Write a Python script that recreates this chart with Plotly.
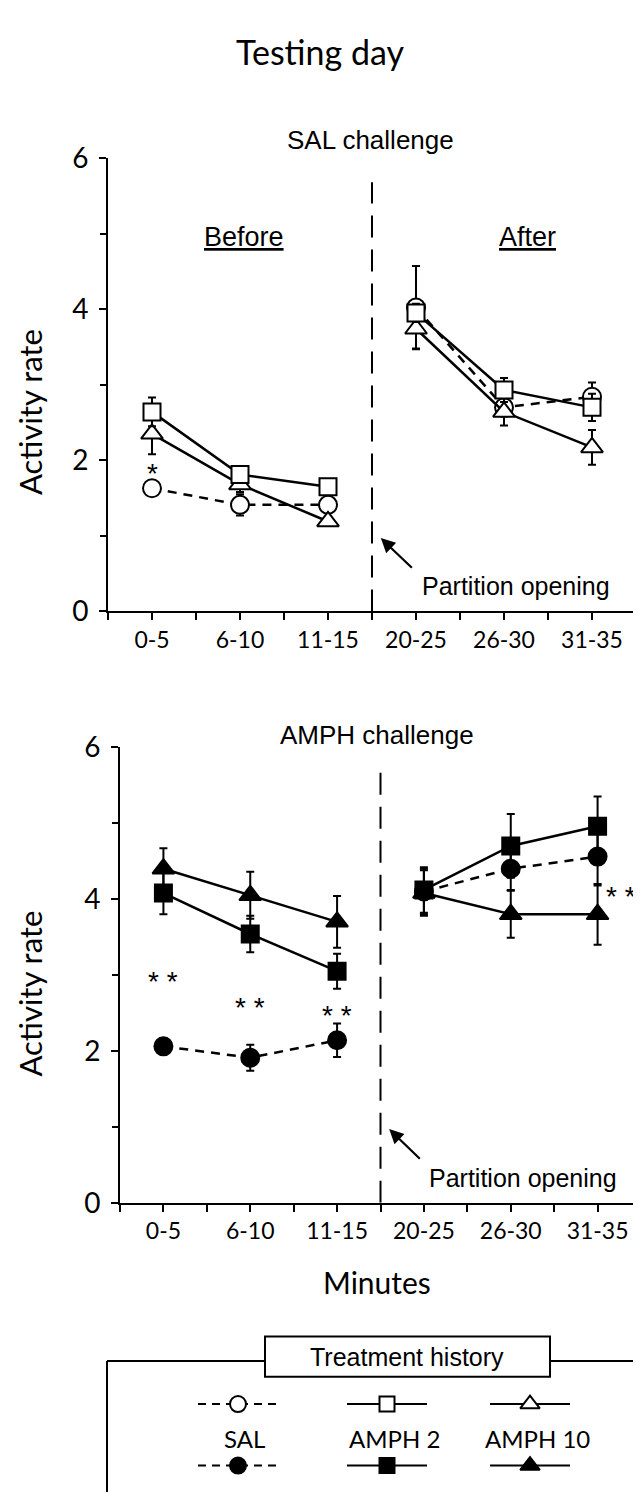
import plotly.graph_objects as go

# ---------------- data ----------------
categories = ["0-5", "6-10", "11-15", "20-25", "26-30", "31-35"]
groups = ["SAL", "AMPH 2", "AMPH 10"]
y_ticks = [0, 2, 4, 6]

# SAL challenge (open symbols)
sal_sal = [1.63, 1.41, 1.41, 4.02, 2.70, 2.84]
sal_sal_err = [0.05, 0.14, 0.06, 0.55, 0.12, 0.19]
sal_amph2 = [2.64, 1.81, 1.65, 3.95, 2.93, 2.70]
sal_amph2_err = [0.19, 0.08, 0.05, 0.12, 0.16, 0.18]
sal_amph10 = [2.35, 1.68, 1.19, 3.74, 2.64, 2.17]
sal_amph10_err = [0.27, 0.10, 0.06, 0.26, 0.18, 0.23]

# AMPH challenge (filled symbols)
amph_sal = [2.06, 1.91, 2.14, 4.10, 4.40, 4.56]
amph_sal_err = [0.10, 0.17, 0.22, 0.30, 0.28, 0.38]
amph_amph2 = [4.08, 3.54, 3.05, 4.12, 4.70, 4.96]
amph_amph2_err = [0.28, 0.24, 0.23, 0.30, 0.42, 0.39]
amph_amph10 = [4.40, 4.05, 3.70, 4.08, 3.80, 3.80]
amph_amph10_err = [0.27, 0.31, 0.34, 0.30, 0.31, 0.40]

# significance marks: (category position, value, text)
sal_sig = [(0, 1.92, "*")]
amph_sig = [(0, 3.0, "* *"), (1, 2.66, "* *"), (2, 2.56, "* *"), (5.27, 4.12, "* *")]

# ---------------- layout helpers ----------------
OFF = 8                      # page body margin
W, H = 641 - OFF, 1508 - OFF
def px(x):
    return (x - OFF) / W
def py(y):
    return 1 - (y - OFF) / H

HELV = "Liberation Sans, Arial, sans-serif"
ROUND = "Lato, Noto Sans, sans-serif"

x_idx = list(range(len(categories)))
n_before = 3

styles = {
    "SAL": dict(symbol="circle", dash="9px,7px", size=18),
    "AMPH 2": dict(symbol="square", dash="solid", size=17),
    "AMPH 10": dict(symbol="triangle-up", dash="solid", size=19),
}

fig = go.Figure()

def add_series(vals, errs, name, filled, xa, ya):
    st = styles[name]
    for sl in (slice(0, n_before), slice(n_before, None)):
        fig.add_trace(go.Scatter(
            x=x_idx[sl], y=vals[sl],
            mode="lines+markers",
            line=dict(color="black", width=2.5, dash=st["dash"]),
            marker=dict(symbol=st["symbol"], size=st["size"],
                        color="black" if filled else "white",
                        line=dict(color="black", width=2)),
            error_y=dict(type="data", array=errs[sl], visible=True,
                         color="black", thickness=2, width=4),
            xaxis=xa, yaxis=ya, showlegend=False, cliponaxis=False,
        ))

top_series = [(sal_sal, sal_sal_err, "SAL"), (sal_amph10, sal_amph10_err, "AMPH 10"),
              (sal_amph2, sal_amph2_err, "AMPH 2")]
bot_series = [(amph_sal, amph_sal_err, "SAL"), (amph_amph10, amph_amph10_err, "AMPH 10"),
              (amph_amph2, amph_amph2_err, "AMPH 2")]
for v, e, n in top_series:
    add_series(v, e, n, False, "x", "y")
for v, e, n in bot_series:
    add_series(v, e, n, True, "x2", "y2")

# ---------------- axes ----------------
def xaxis(domain, anchor):
    return dict(domain=domain, anchor=anchor, range=[-0.5, 5.5],
                tickmode="array", tickvals=x_idx, ticktext=categories,
                ticks="outside", ticklen=7, tickwidth=2, tickcolor="black",
                minor=dict(tickmode="linear", tick0=-0.5, dtick=1, ticks="outside",
                           ticklen=7, tickwidth=2, tickcolor="black"),
                showline=True, linewidth=2, linecolor="black",
                showgrid=False, zeroline=False,
                tickfont=dict(family=ROUND, size=23, color="black"))

def yaxis(domain, anchor):
    return dict(domain=domain, anchor=anchor, range=[0, 6],
                tickmode="array", tickvals=y_ticks,
                ticks="outside", ticklen=7, tickwidth=2, tickcolor="black",
                minor=dict(tickmode="linear", tick0=1, dtick=2, ticks="outside",
                           ticklen=6, tickwidth=2, tickcolor="black"),
                showline=True, linewidth=2, linecolor="black",
                showgrid=False, zeroline=False, ticklabelstandoff=5,
                tickfont=dict(family=ROUND, size=28, color="black"))

top_x = [px(108), px(636)]
top_y = [py(607), py(143)]
bot_x = [px(120), 1.0]
bot_y = [py(1212), py(746)]

fig.update_layout(
    width=W, height=H, autosize=False,
    margin=dict(l=0, r=0, t=0, b=0),
    paper_bgcolor="white", plot_bgcolor="rgba(0,0,0,0)",
    xaxis=xaxis(top_x, "y"), yaxis=yaxis(top_y, "x"),
    xaxis2=xaxis(bot_x, "y2"), yaxis2=yaxis(bot_y, "x2"),
    xaxis3=dict(domain=[0, 1], range=[OFF, OFF + W], visible=False, anchor="y3"),
    yaxis3=dict(domain=[0, 1], range=[OFF + H, OFF], visible=False, anchor="x3"),
)

shapes = []
annotations = []

def note(text, x, y, size, family, xref="paper", yref="paper", **kw):
    d = dict(text=text, x=x, y=y, xref=xref, yref=yref, showarrow=False,
             xanchor="center", yanchor="middle",
             font=dict(family=family, size=size, color="black"))
    d.update(kw)
    annotations.append(d)

# dashed partition lines + arrows
for xr, yr in (("x", "y"), ("x2", "y2")):
    shapes.append(dict(type="line", xref=xr, yref=yr, x0=2.5, x1=2.5, y0=0, y1=5.68,
                       line=dict(color="black", width=2, dash="22px,12px")))
    annotations.append(dict(xref=xr, yref=yr, x=2.6, y=0.97, ax=2.97, ay=0.56,
                            axref=xr, ayref=yr, showarrow=True, arrowhead=2,
                            arrowsize=1.3, arrowwidth=2.2, arrowcolor="black", text=""))
    note("Partition opening", 4.14, 0.33, 25, HELV, xref=xr, yref=yr)

# significance marks
for xr, yr, marks in (("x", "y", sal_sig), ("x2", "y2", amph_sig)):
    for xi, yv, t in marks:
        note(t, xi, yv, 28, HELV, xref=xr, yref=yr, yshift=-7)

# titles and labels
note("Testing day", px(320), py(34), 34, ROUND)
note("SAL challenge", px(370), py(125), 26, HELV)
note("AMPH challenge", px(377), py(733), 26, HELV)
note("<u>Before</u>", 1.05, 4.95, 27, HELV, xref="x", yref="y")
note("<u>After</u>", 4.27, 4.95, 27, HELV, xref="x", yref="y")
note("Activity rate", px(30), py(403), 31, ROUND, textangle=-90)
note("Activity rate", px(30), py(998), 31, ROUND, textangle=-90)
note("Minutes", px(377), py(1293), 30, ROUND)
note("Treatment history", px(407), py(1370), 25, HELV)

# legend frame
lw = dict(color="black", width=2)
shapes += [
    dict(type="rect", xref="paper", yref="paper", x0=px(265), x1=px(550), y0=py(1390), y1=py(1349),
         line=lw, fillcolor="white"),
    dict(type="line", xref="paper", yref="paper", x0=px(107), x1=px(265), y0=py(1374), y1=py(1374), line=lw),
    dict(type="line", xref="paper", yref="paper", x0=px(550), x1=px(639), y0=py(1374), y1=py(1374), line=lw),
    dict(type="line", xref="paper", yref="paper", x0=px(107), x1=px(107), y0=py(1374), y1=0, line=lw),
    dict(type="line", xref="paper", yref="paper", x0=px(639), x1=px(639), y0=py(1374), y1=0, line=lw),
]

# legend keys
leg_cx = [238, 387, 530]
leg_lab_cx = [244, 394, 537]
leg_half = 40
row_open, row_lab, row_fill = 1418, 1453, 1481
for g, cx, lx in zip(groups, leg_cx, leg_lab_cx):
    st = styles[g]
    for ry, filled in ((row_open, False), (row_fill, True)):
        fig.add_trace(go.Scatter(
            x=[cx - leg_half, cx + leg_half], y=[ry, ry], mode="lines",
            line=dict(color="black", width=2, dash="8px,6px" if g == "SAL" else "solid"),
            xaxis="x3", yaxis="y3", showlegend=False, hoverinfo="skip"))
        fig.add_trace(go.Scatter(
            x=[cx], y=[ry], mode="markers",
            marker=dict(symbol=st["symbol"], size=st["size"] - 2,
                        color="black" if filled else "white",
                        line=dict(color="black", width=2)),
            xaxis="x3", yaxis="y3", showlegend=False, hoverinfo="skip"))
    note(g, px(lx), py(row_lab), 24, ROUND)

fig.update_layout(shapes=shapes, annotations=annotations)
fig.write_html("out.html")
